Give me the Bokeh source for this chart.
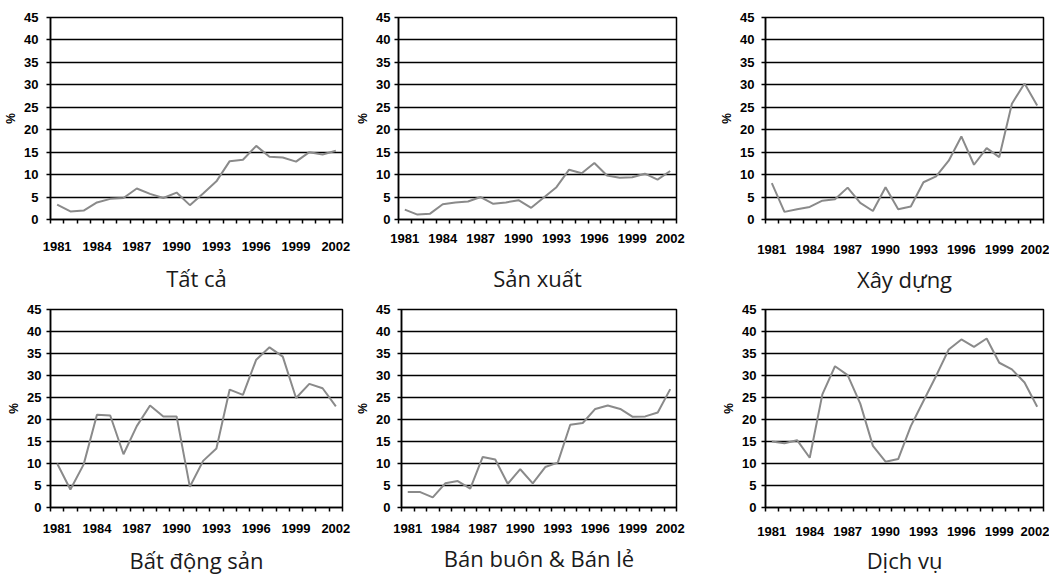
from bokeh.plotting import figure
from bokeh.layouts import column, row
from bokeh.models import FixedTicker, Range1d
from bokeh.embed import file_html
from bokeh.resources import INLINE

# ---------------- data ----------------
years = list(range(1981, 2003))
tick_years = [1981, 1984, 1987, 1990, 1993, 1996, 1999, 2002]
y_ticks = [0, 5, 10, 15, 20, 25, 30, 35, 40, 45]

tat_ca = [3.3, 1.8, 2.0, 3.8, 4.6, 4.8, 6.9, 5.7, 4.8, 6.0, 3.2,
          5.8, 8.5, 13.0, 13.3, 16.4, 14.0, 13.8, 12.9, 15.0, 14.5, 15.3]
san_xuat = [2.2, 1.1, 1.3, 3.4, 3.8, 4.0, 5.0, 3.5, 3.8, 4.3, 2.6,
            4.9, 7.2, 11.1, 10.3, 12.6, 9.8, 9.3, 9.4, 10.2, 8.9, 10.8]
xay_dung = [8.1, 1.7, 2.3, 2.8, 4.2, 4.5, 7.1, 3.7, 1.9, 7.2, 2.3,
            2.9, 8.3, 9.6, 13.1, 18.5, 12.2, 15.9, 13.9, 25.8, 30.3, 25.4]
bat_dong_san = [10.0, 4.1, 9.8, 21.1, 20.9, 12.1, 18.5, 23.2, 20.7, 20.7, 4.7,
                10.6, 13.4, 26.8, 25.6, 33.6, 36.4, 34.3, 24.9, 28.1, 27.1, 23.0]
ban_buon_ban_le = [3.5, 3.5, 2.3, 5.5, 6.0, 4.3, 11.5, 10.9, 5.4, 8.7, 5.5,
                   9.2, 10.2, 18.8, 19.2, 22.4, 23.2, 22.4, 20.6, 20.7, 21.6, 26.9]
dich_vu = [15.0, 14.6, 15.3, 11.3, 25.7, 32.1, 30.1, 23.6, 14.0, 10.4, 11.0,
           18.5, 24.2, 29.9, 35.9, 38.2, 36.5, 38.4, 32.9, 31.4, 28.4, 22.9]

titles = ["Tất cả", "Sản xuất", "Xây dựng", "Bất động sản", "Bán buôn & Bán lẻ", "Dịch vụ"]
series = [tat_ca, san_xuat, xay_dung, bat_dong_san, ban_buon_ban_le, dich_vu]

# ---------------- layout (pixels) ----------------
# column widths / borders are shared per grid column, top/bottom borders per row
col_geo = [dict(w=353, bl=50, br=11), dict(w=347, bl=39, br=24), dict(w=349, bl=65, br=6)]
row_geo = [dict(h=296, bt=17, bb=77), dict(h=281, bt=13, bb=70)]
# y-label standoff, x-label standoff, caption standoff
panel_geo = [
    dict(ys=8, xs=18, ts=9),
    dict(ys=4, xs=10, ts=17),
    dict(ys=7, xs=21, ts=7),
    dict(ys=5, xs=12, ts=9),
    dict(ys=7, xs=12, ts=7),
    dict(ys=5, xs=15, ts=6),
]

TICK_FONT = "Liberation Sans"


def make_panel(vals, title, C, R, P):
    x0, x1 = years[0] - 0.5, years[-1] + 0.5
    p = figure(width=C["w"], height=R["h"],
               x_range=Range1d(x0, x1), y_range=Range1d(0, 45),
               output_backend="svg", toolbar_location=None,
               min_border_left=C["bl"], min_border_right=C["br"],
               min_border_top=R["bt"], min_border_bottom=R["bb"])
    p.background_fill_color = "white"
    p.border_fill_color = "white"
    p.outline_line_color = "black"
    p.outline_line_width = 1.5

    p.line(years, vals, line_color="#8a8a8a", line_width=2)

    # y axis
    p.yaxis.ticker = FixedTicker(ticks=y_ticks)
    p.yaxis.axis_label = "%"
    p.yaxis.axis_label_text_font = TICK_FONT
    p.yaxis.axis_label_text_font_style = "bold"
    p.yaxis.axis_label_text_font_size = "12px"
    p.yaxis.axis_label_text_color = "black"
    p.yaxis.axis_label_standoff = 3
    p.yaxis.axis_line_color = "black"
    p.yaxis.axis_line_width = 1.5
    p.yaxis.major_tick_in = 0
    p.yaxis.major_tick_out = 4
    p.yaxis.major_tick_line_width = 1.5
    p.yaxis.major_tick_line_color = "black"
    p.yaxis.minor_tick_line_color = None
    p.yaxis.major_label_standoff = P["ys"]
    p.yaxis.major_label_text_font = TICK_FONT
    p.yaxis.major_label_text_font_style = "bold"
    p.yaxis.major_label_text_font_size = "13px"
    p.yaxis.major_label_text_color = "black"

    # x axis: labels at category centres, ticks at category boundaries
    p.xaxis.ticker = FixedTicker(ticks=tick_years,
                                 minor_ticks=[y - 0.5 for y in years] + [years[-1] + 0.5])
    p.xaxis.axis_line_color = "black"
    p.xaxis.axis_line_width = 1.5
    p.xaxis.major_tick_line_color = None
    p.xaxis.major_tick_in = 0
    p.xaxis.major_tick_out = 0
    p.xaxis.minor_tick_line_color = "black"
    p.xaxis.minor_tick_line_width = 1.5
    p.xaxis.minor_tick_in = 0
    p.xaxis.minor_tick_out = 4
    p.xaxis.major_label_standoff = P["xs"]
    p.xaxis.major_label_text_font = TICK_FONT
    p.xaxis.major_label_text_font_style = "bold"
    p.xaxis.major_label_text_font_size = "13px"
    p.xaxis.major_label_text_color = "black"

    # caption under each small chart
    p.xaxis.axis_label = title
    p.xaxis.axis_label_text_font = "Open Sans"
    p.xaxis.axis_label_text_font_style = "normal"
    p.xaxis.axis_label_text_font_size = "22px"
    p.xaxis.axis_label_text_color = "#1a1a1a"
    p.xaxis.axis_label_standoff = P["ts"]

    # grid
    p.xgrid.grid_line_color = None
    p.ygrid.ticker = FixedTicker(ticks=y_ticks)
    p.ygrid.grid_line_color = "black"
    p.ygrid.grid_line_width = 1.5
    return p


panels = []
for i, (v, t) in enumerate(zip(series, titles)):
    panels.append(make_panel(v, t, col_geo[i % 3], row_geo[i // 3], panel_geo[i]))

layout = column(row(*panels[:3], spacing=0), row(*panels[3:], spacing=0), spacing=0)

open("out.html", "w").write(file_html(layout, INLINE))
